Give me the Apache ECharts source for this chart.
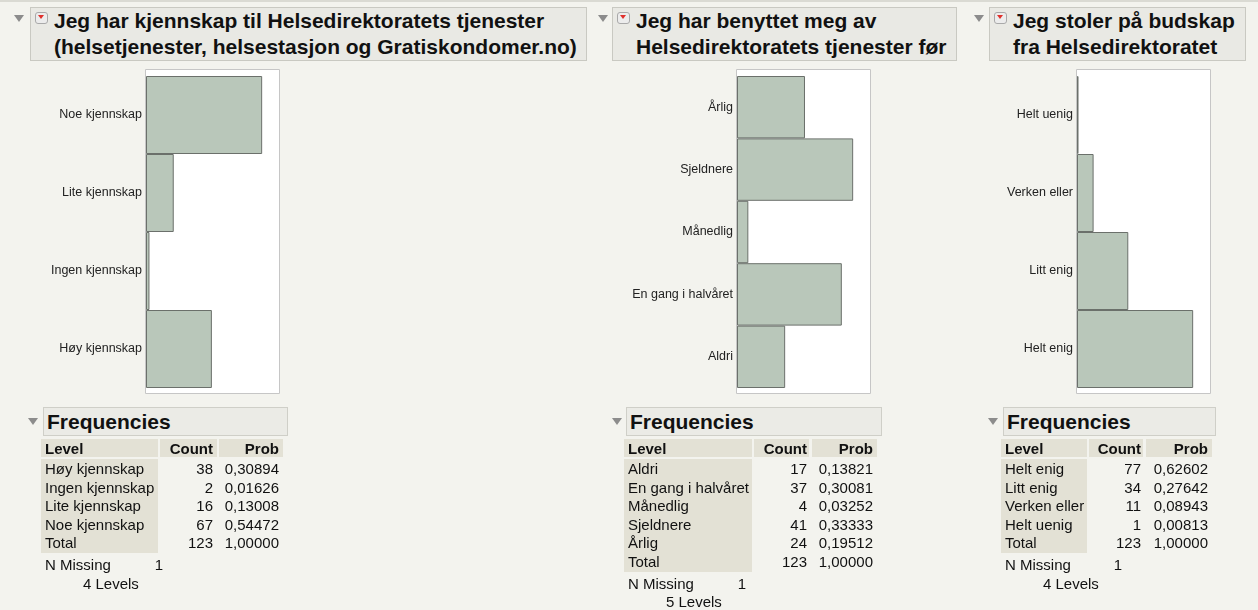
<!DOCTYPE html>
<html>
<head>
<meta charset="utf-8">
<title>Helsedirektoratet</title>
<script src="https://cdn.jsdelivr.net/npm/echarts@6/dist/echarts.min.js"></script>
<style>
body {
  margin: 0;
  background: #f3f3ee;
  font-family: "Liberation Sans", Arial, Helvetica, sans-serif;
  color: #111;
}
#chart {
  position: absolute;
  left: 0;
  top: 0;
  width: 1258px;
  height: 610px;
}
.topline {
  position: absolute;
  left: 0;
  top: 0;
  width: 1258px;
  height: 2px;
  background: #dadad3;
}
.tri {
  position: absolute;
  width: 0;
  height: 0;
  border-left: 5px solid transparent;
  border-right: 5px solid transparent;
  border-top: 7px solid #8c8c8c;
}
.head {
  position: absolute;
  top: 7px;
  height: 54px;
  box-sizing: border-box;
  background: #e9e9e4;
  border: 1px solid #c9c9c2;
  padding-left: 23px;
  font-weight: bold;
  font-size: 21px;
  line-height: 26px;
  white-space: nowrap;
}
.menu {
  position: absolute;
  left: 4px;
  top: 4px;
  width: 13px;
  height: 12px;
  box-sizing: border-box;
  border: 1px solid #a9a9a9;
  border-radius: 3px;
  background: #ececec;
}
.menu:after {
  content: "";
  position: absolute;
  left: 2px;
  top: 2px;
  border-left: 3.5px solid transparent;
  border-right: 3.5px solid transparent;
  border-top: 4px solid #e0302c;
}
.freq {
  position: absolute;
  top: 407px;
  height: 29px;
  box-sizing: border-box;
  background: #ebebe6;
  border: 1px solid #cfcfc8;
  padding-left: 3px;
  font-weight: bold;
  font-size: 21px;
  line-height: 27px;
}
.cell {
  position: absolute;
  font-size: 15px;
  white-space: nowrap;
}
.bg {
  position: absolute;
  background: #e3e1d5;
}
</style>
</head>
<body>
<div class="topline"></div>
<div id="chart"></div>
<div id="overlay"></div>

<script>
// panel 1
const titles1 = ['Jeg har kjennskap til Helsedirektoratets tjenester', '(helsetjenester, helsestasjon og Gratiskondomer.no)'];
const levels1 = ['Høy kjennskap', 'Ingen kjennskap', 'Lite kjennskap', 'Noe kjennskap'];
const counts1 = [38, 2, 16, 67];
const probs1 = ['0,30894', '0,01626', '0,13008', '0,54472'];

// panel 2
const titles2 = ['Jeg har benyttet meg av', 'Helsedirektoratets tjenester før'];
const levels2 = ['Aldri', 'En gang i halvåret', 'Månedlig', 'Sjeldnere', 'Årlig'];
const counts2 = [17, 37, 4, 41, 24];
const probs2 = ['0,13821', '0,30081', '0,03252', '0,33333', '0,19512'];

// panel 3
const titles3 = ['Jeg stoler på budskap', 'fra Helsedirektoratet'];
const levels3 = ['Helt enig', 'Litt enig', 'Verken eller', 'Helt uenig'];
const counts3 = [77, 34, 11, 1];
const probs3 = ['0,62602', '0,27642', '0,08943', '0,00813'];

const totals = [123, 123, 123];
const missing = [1, 1, 1];

const panels = [
  {titles: titles1, levels: levels1, counts: counts1, probs: probs1,
   head: [30, 587], headTri: 14, frame: 145,
   freqTri: 28, freq: [43, 288], level: [41, 158], count: [160, 217], prob: [219, 283],
   countR: 213, probR: 279, missR: 163, levelsX: 83},
  {titles: titles2, levels: levels2, counts: counts2, probs: probs2,
   head: [612, 957], headTri: 598, frame: 736,
   freqTri: 612, freq: [626, 882], level: [624, 752], count: [754, 809], prob: [812, 877],
   countR: 807, probR: 873, missR: 746, levelsX: 666},
  {titles: titles3, levels: levels3, counts: counts3, probs: probs3,
   head: [989, 1246], headTri: 974, frame: 1076,
   freqTri: 988, freq: [1003, 1216], level: [1001, 1087], count: [1089, 1143], prob: [1146, 1212],
   countR: 1141, probR: 1208, missR: 1122, levelsX: 1043}
];

const ROW = 18.6;

// html parts: headers and frequency tables
let overlay = document.getElementById('overlay');
function addDiv(cls, css, text) {
  let d = document.createElement('div');
  d.className = cls;
  d.style.cssText = css;
  if (text !== undefined) d.textContent = text;
  overlay.appendChild(d);
  return d;
}

panels.forEach((p, k) => {
  addDiv('tri', 'left:' + p.headTri + 'px;top:15px;');
  let h = addDiv('head', 'left:' + p.head[0] + 'px;width:' + (p.head[1] - p.head[0]) + 'px;');
  h.innerHTML = '<div class="menu"></div>' + p.titles.join('<br>');

  addDiv('tri', 'left:' + p.freqTri + 'px;top:418px;');
  addDiv('freq', 'left:' + p.freq[0] + 'px;width:' + (p.freq[1] - p.freq[0]) + 'px;', 'Frequencies');

  // header row
  addDiv('bg', 'left:' + p.level[0] + 'px;top:439px;width:' + (p.level[1] - p.level[0]) + 'px;height:18px;');
  addDiv('bg', 'left:' + p.count[0] + 'px;top:439px;width:' + (p.count[1] - p.count[0]) + 'px;height:18px;');
  addDiv('bg', 'left:' + p.prob[0] + 'px;top:439px;width:' + (p.prob[1] - p.prob[0]) + 'px;height:18px;');
  addDiv('cell', 'left:' + (p.level[0] + 4) + 'px;top:439px;line-height:19px;font-weight:bold;', 'Level');
  addDiv('cell', 'right:' + (1258 - p.countR) + 'px;top:439px;line-height:19px;font-weight:bold;', 'Count');
  addDiv('cell', 'right:' + (1258 - p.probR) + 'px;top:439px;line-height:19px;font-weight:bold;', 'Prob');

  let rows = p.levels.map((l, i) => [l, p.counts[i], p.probs[i]]);
  rows.push(['Total', totals[k], '1,00000']);
  addDiv('bg', 'left:' + p.level[0] + 'px;top:459px;width:' + (p.level[1] - p.level[0]) + 'px;height:' + (rows.length * ROW + 1) + 'px;');
  rows.forEach((r, i) => {
    let top = 460 + i * ROW;
    let css = 'top:' + top + 'px;line-height:' + ROW + 'px;';
    addDiv('cell', 'left:' + (p.level[0] + 4) + 'px;' + css, r[0]);
    addDiv('cell', 'right:' + (1258 - p.countR) + 'px;' + css, r[1]);
    addDiv('cell', 'right:' + (1258 - p.probR) + 'px;' + css, r[2]);
  });
  let y = 460 + rows.length * ROW + 3;
  addDiv('cell', 'left:' + (p.level[0] + 4) + 'px;top:' + y + 'px;line-height:' + ROW + 'px;', 'N Missing');
  addDiv('cell', 'right:' + (1258 - p.missR) + 'px;top:' + y + 'px;line-height:' + ROW + 'px;', missing[k]);
  addDiv('cell', 'left:' + p.levelsX + 'px;top:' + (y + ROW) + 'px;line-height:' + ROW + 'px;', p.levels.length + '  Levels');
});

// bar charts
let chart = echarts.init(document.getElementById('chart'), null, {renderer: 'canvas'});

let grids = [], xAxes = [], yAxes = [], series = [], frames = [];
panels.forEach((p, i) => {
  frames.push({
    type: 'rect',
    z: 0,
    shape: {x: p.frame + 0.5, y: 69.5, width: 134, height: 324},
    style: {fill: '#ffffff', stroke: '#c6c6c6', lineWidth: 1}
  });
  grids.push({left: p.frame + 1, top: 76, width: 133, height: 312});
  xAxes.push({
    gridIndex: i,
    type: 'value',
    min: 0,
    max: function (v) { return v.max * 1.145; },
    show: false
  });
  yAxes.push({
    gridIndex: i,
    type: 'category',
    data: p.levels,
    axisLine: {show: false},
    axisTick: {show: false},
    splitLine: {show: false},
    axisLabel: {
      color: '#222',
      fontSize: 12.5,
      margin: 4,
      fontFamily: '"Liberation Sans", Arial, sans-serif'
    }
  });
  series.push({
    type: 'bar',
    xAxisIndex: i,
    yAxisIndex: i,
    data: p.counts,
    barCategoryGap: '0%',
    silent: true,
    itemStyle: {color: '#b9c7ba', borderColor: '#6b706b', borderWidth: 1}
  });
});

let option = {
  animation: false,
  backgroundColor: 'transparent',
  graphic: frames,
  grid: grids,
  xAxis: xAxes,
  yAxis: yAxes,
  series: series
};
option && chart.setOption(option);
</script>
</body>
</html>
